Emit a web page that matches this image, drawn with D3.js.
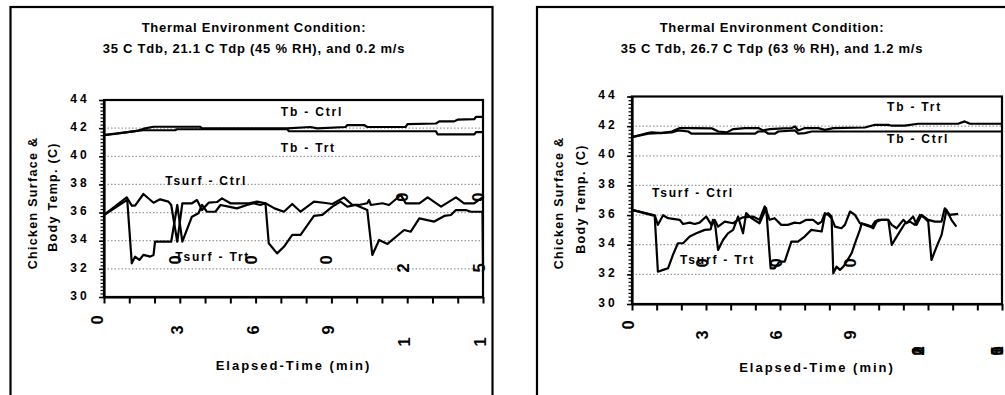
<!DOCTYPE html>
<meta charset="utf-8">
<script src="https://d3js.org/d3.v7.min.js"></script>
<style>
  body { margin: 0; background: #fff; }
  text { font-family: Arial, "Liberation Sans", sans-serif; font-weight: bold; fill: #000; }
</style>
<svg id="chart" width="1005" height="395"></svg>
<script>

// Axis values shared by both charts
var xTickValues = [0, 30, 60, 90, 120, 150];   // elapsed time (min)
var xMinorTicks = d3.range(0, 151, 10);
var yTickValues = [30, 32, 34, 36, 38, 40, 42, 44];
var gridValues = [32, 34, 36, 38, 40, 42];

// Left chart: 35 C Tdb, 21.1 C Tdp (45 % RH), 0.2 m/s   -> [min, degC]
var leftTitle = ["Thermal Environment Condition:", "35 C Tdb, 21.1 C Tdp (45 % RH), and 0.2 m/s"];
var leftTbCtrl = [[0,41.5],[3.7,41.6],[7.7,41.68],[13,41.8],[16.3,41.98],[19.6,42.1],[38.1,42.1],[38.8,41.98],
  [72.5,41.98],[81.7,42.08],[84.4,41.98],[95.6,42.08],[96.3,42.22],[102.9,42.22],[104.2,42.08],[119.4,42.08],
  [120.1,42.28],[131.4,42.33],[132.7,42.48],[138.6,42.48],[139.9,42.6],[146.6,42.64],[147.2,42.8],[150,42.8]];
var leftTbTrt = [[0,41.5],[5,41.6],[13,41.8],[15.6,41.85],[28.2,41.85],[28.8,41.92],[72.5,41.92],[73.2,41.78],
  [131.4,41.78],[132,41.56],[146.6,41.56],[147.2,41.72],[150,41.72]];
var leftTsurfCtrl = [[0,35.83],[9,37.08],[11,36.49],[12.3,36.49],[15.6,37.32],[19.6,36.7],[22.2,36.94],[25.5,36.78],
  [26.6,36.54],[29,33.93],[31,36.66],[34.8,36.66],[36.8,36.89],[38.8,36.18],
  [41.4,36.7],[44.7,36.75],[46.7,37.01],[50,36.66],[57.3,36.66],[60.6,36.78],[63.9,36.66],[67.5,36.3],[71.2,36.06],
  [74.5,36.61],[77.8,36.06],[83.1,36.78],[87,36.7],[90.4,36.61],[95,37.08],[98.3,36.54],[100.9,36.54],[104.2,36.66],
  [104.9,36.89],[105.6,36.54],[108.2,36.61],[110.2,36.66],[112.8,36.54],[117.5,37.25],[119.4,36.66],[124.8,36.66],
  [128.1,37.08],[133.4,36.42],[136.6,36.78],[139.3,37.08],[142.5,36.66],[146.5,36.66],[149.8,37.08]];
var leftTsurfTrt = [[0,35.83],[9.2,36.9],[11,32.39],[12.3,32.87],[14,32.63],[15.6,32.99],[18.3,32.87],[19.6,32.99],
  [20.2,33.93],[26.6,33.93],[29,36.54],[31,33.93],[34.8,35.71],[37.4,35.95],
  [38.8,36.54],[40.7,36.06],[44.1,36.06],[46.1,36.54],[49.3,36.42],[52.6,36.3],[56.6,36.54],[59.3,36.66],
  [61.9,36.54],[63.9,36.66],[65.2,33.82],[68.5,33.1],[71.2,33.57],[74.5,34.41],[77.8,34.41],[83.1,35.76],
  [86.4,35.83],[90.4,36.42],[93.6,36.78],[96.3,36.42],[99.6,36.54],[104.2,36.18],[106.2,32.99],[108.9,34.05],
  [112.2,33.77],[118.8,34.76],[121.4,34.64],[124.8,35.59],[130.7,35.36],[134.7,35.76],[137.3,35.83],[139.3,36.18],
  [143.2,36.18],[145.2,36.06],[149.8,36.06],[150,32.2]];

// Right chart: 35 C Tdb, 26.7 C Tdp (63 % RH), 1.2 m/s
var rightTitle = ["Thermal Environment Condition:", "35 C Tdb, 26.7 C Tdp (63 % RH), and 1.2 m/s"];
var rightTbTrt = [[0,41.26],[5.3,41.49],[8,41.58],[12,41.53],[16.1,41.64],[19.4,41.87],[24.2,41.87],[32.3,41.85],
  [35,41.64],[38.4,41.58],[41.1,41.8],[45.8,41.87],[51.2,41.87],[53.2,41.71],[55.9,41.8],[61.3,41.85],[64.7,41.87],
  [66.1,41.98],[67.4,41.71],[70.1,41.87],[75.5,41.87],[78.2,41.75],[81.6,41.87],[94.4,41.91],[98.5,42.09],
  [103.9,42.09],[105.2,42.03],[110.6,42.03],[116,42.16],[132.2,42.16],[134.9,42.32],[137,42.16],[150,42.16]];
var rightTbCtrl = [[0,41.26],[6.6,41.49],[16.1,41.58],[18.8,41.71],[22.8,41.64],[24.2,41.49],[49.9,41.49],
  [51.2,41.64],[53.9,41.64],[55.3,41.49],[58,41.49],[59.3,41.64],[66.1,41.71],[67.4,41.49],[70.1,41.53],
  [72.8,41.64],[150,41.64]];
var rightTsurfCtrl = [[0,36.35],[9.2,35.99],[10.5,35.34],[12.6,35.99],[14.6,35.79],[19.3,35.68],[20.7,35.4],
  [23.4,35.49],[25.4,35.4],[27.4,35.49],[30.1,35.9],[32.2,35.34],[33.5,35.68],[34.9,35.22],[37.6,35.56],[41,35.45],
  [43,35.68],[45,35.85],[49,35.9],[51.7,35.68],[53.8,36.58],[55.8,35.68],[57.8,35.79],[60.5,35.34],[63.2,35.34],
  [65.9,35.49],[68,35.45],[70.7,35.68],[73.4,35.68],[75.4,35.4],[76.9,35.56],[78.2,36.13],[79.6,36.01],[80.9,35.79],
  [82.3,35.22],[84.9,35.11],[86.3,35.34],[88.4,36.24],[90.4,36.01],[92.4,35.45],[94.5,35.34],[96.5,35.22],
  [97.8,35.11],[99.2,35.56],[101.2,35.68],[103.9,35.68],[105.3,35.34],[107.3,35.11],[110,35.68],[111.3,35.45],
  [114,35.9],[115.4,35.34],[117.4,36.01],[120.1,35.68],[122.8,35.56],[125.5,35.56],[126.8,36.46],[128.8,36.01],
  [132.2,36.08]];
var rightTsurfTrt = [[0,36.35],[9.2,35.95],[10.5,32.18],[12.6,32.3],[14.6,32.41],[16.6,33.31],[18.6,34.1],
  [20.7,34.1],[23.4,34.55],[26.1,34.77],[29.5,35],[31.9,35.04],[32.8,35.68],[33.8,35.22],[34.9,33.65],[36.9,34.32],
  [38.9,34.77],[41,35],[43,35.9],[45,34.77],[46.3,36.13],[48.4,35.79],[51.7,35.45],[54.4,36.46],[56.2,32.41],
  [57.8,32.41],[59.8,32.86],[61.9,32.86],[64.6,34.21],[67.3,34.21],[70,34.55],[72.7,35],[76.9,34.89],[78.2,36.01],
  [79.6,36.13],[80.9,35.9],[81.6,32.07],[82.9,32.52],[84.3,32.3],[85.7,32.52],[87,32.86],[89,33.42],[90.9,34.32],
  [92.4,35],[93.1,35.45],[95.1,35.34],[97.2,35.22],[98.5,35.56],[99.9,35.68],[103.9,35.68],[105.3,33.99],
  [107.3,34.55],[110.7,35.45],[112.7,35.56],[114.7,35.34],[116.7,36.01],[118.7,35.79],[120.1,35.56],[121.4,32.97],
  [123.5,33.87],[125.5,34.66],[127.5,36.35],[129.5,35.68],[131.5,35.22]];

var svg = d3.select("#chart");

function drawPanel(p) {
  var g = svg.append("g");

  var x = d3.scaleLinear().domain([0, 150]).range([p.left, p.right]);
  var y = d3.scaleLinear().domain([30, 44]).range([p.bottom, p.top]);

  // outer chart frame (runs off the bottom of the picture)
  g.append("rect")
    .attr("x", p.frame[0]).attr("y", p.frame[1])
    .attr("width", p.frame[2]).attr("height", 500)
    .attr("fill", "none").attr("stroke", "#000").attr("stroke-width", 2.2);

  // title
  g.selectAll(".title").data(p.title).enter().append("text")
    .attr("x", p.titleX)
    .attr("y", function(d, i){ return 32 + i * 21; })
    .attr("text-anchor", "middle")
    .style("font-size", "13px")
    .style("letter-spacing", "0.75px")
    .text(function(d){ return d; });

  // dotted gridlines
  g.selectAll(".grid").data(gridValues).enter().append("line")
    .attr("x1", p.left).attr("x2", p.right)
    .attr("y1", function(d){ return y(d); }).attr("y2", function(d){ return y(d); })
    .attr("stroke", "#9a9a9a").attr("stroke-width", 1.2)
    .attr("stroke-dasharray", "1.5 2");

  // plot area border
  g.append("rect")
    .attr("x", p.left).attr("y", p.top)
    .attr("width", p.right - p.left).attr("height", p.bottom - p.top)
    .attr("fill", "none").attr("stroke", "#000").attr("stroke-width", 2.2);

  // y axis: minor ticks, then major ticks with labels
  g.append("g")
    .attr("transform", "translate(" + p.left + ",0)")
    .call(d3.axisLeft(y).tickValues(d3.range(30, 44.01, 0.25)).tickSize(3.5).tickSizeOuter(0).tickFormat(""))
    .call(function(a){ a.select(".domain").attr("stroke-width", 2.2); a.selectAll("line").attr("stroke-width", 1.2); });

  var yAxis = g.append("g")
    .attr("transform", "translate(" + p.left + ",0)")
    .call(d3.axisLeft(y).tickValues(yTickValues).tickSize(5).tickSizeOuter(0).tickPadding(9));
  yAxis.select(".domain").remove();
  yAxis.selectAll("line").attr("stroke-width", 1.5);
  yAxis.selectAll("text")
    .attr("dy", "0.18em")
    .style("font-size", "12px")
    .style("letter-spacing", "3.2px")
    .style("font-family", "Arial, 'Liberation Sans', sans-serif")
    .style("font-weight", "bold");

  // x axis ticks every 10 min
  var xAxis = g.append("g")
    .attr("transform", "translate(0," + p.bottom + ")")
    .call(d3.axisBottom(x).tickValues(xMinorTicks).tickSize(6.5).tickSizeOuter(0).tickFormat(""));
  xAxis.select(".domain").attr("stroke-width", 2.2);
  xAxis.selectAll("line").attr("stroke-width", 2);

  // x tick labels: rotated glyphs, the way the original rendered them
  xTickValues.forEach(function(t, i) {
    var s = String(t);
    p.placeLabel(s, i).forEach(function(c) {
      g.append("text")
        .attr("transform", "translate(" + (x(t) + c.dx) + "," + c.y(y) + ") rotate(-90)")
        .attr("text-anchor", "middle")
        .attr("dy", "0.36em")
        .style("font-size", "16.5px")
        .text(c.ch);
    });
  });

  // axis titles
  g.append("text")
    .attr("x", (p.left + p.right) / 2).attr("y", p.xTitleY)
    .attr("text-anchor", "middle")
    .style("font-size", "13px").style("letter-spacing", "2px")
    .text("Elapsed-Time (min)");

  ["Chicken Surface &", "Body Temp. (C)"].forEach(function(s, i) {
    g.append("text")
      .attr("transform", "translate(" + p.yTitle[i][0] + "," + p.yTitle[i][1] + ") rotate(-90)")
      .attr("text-anchor", "middle")
      .attr("dy", "0.36em")
      .style("font-size", "12.5px").style("letter-spacing", "1.3px")
      .text(s);
  });

  // series
  var line = d3.line()
    .x(function(d){ return x(d[0]); })
    .y(function(d){ return y(d[1]); });

  g.selectAll(".series").data(p.series).enter().append("path")
    .attr("d", function(d){ return line(d.values); })
    .attr("fill", "none")
    .attr("stroke", "#000")
    .attr("stroke-width", 2.2)
    .attr("stroke-linejoin", "round");

  // series labels
  g.selectAll(".lab").data(p.series).enter().append("text")
    .attr("x", function(d){ return x(d.at[0]); })
    .attr("y", function(d){ return y(d.at[1]); })
    .attr("dy", "0.36em")
    .style("font-size", "12px").style("letter-spacing", "1.8px")
    .text(function(d){ return d.name; });
}

drawPanel({
  frame: [10.5, 7, 482],
  left: 104, right: 483, top: 100, bottom: 297,
  title: leftTitle, titleX: 254, xTitleY: 370,
  yTitle: [[32, 203], [52, 197]],
  series: [
    { name: "Tb - Ctrl", values: leftTbCtrl, at: [70, 43.15] },
    { name: "Tb - Trt", values: leftTbTrt, at: [70, 40.6] },
    { name: "Tsurf - Ctrl", values: leftTsurfCtrl, at: [24.2, 38.25] },
    { name: "Tsurf - Trt", values: leftTsurfTrt, at: [28.2, 32.85] }
  ],
  // first digit below the axis, the other digits land inside the plot
  placeLabel: function(s, i) {
    var dx = i === 0 ? -7 : -3;
    if (s.length === 1) return [{ ch: s, dx: dx, y: function(y){ return y(30) + 23; } }];
    if (s.length === 2) return [
      { ch: s[0], dx: dx, y: function(y){ return y(30) + 33; } },
      { ch: s[1], dx: -5, y: function(y){ return y(32.63); } }];
    return [
      { ch: s[0], dx: dx, y: function(y){ return y(30) + 45; } },
      { ch: s[1], dx: -4, y: function(y){ return y(32.06); } },
      { ch: s[2], dx: -5, y: function(y){ return y(37.1); } }];
  }
});

drawPanel({
  frame: [537, 7, 472],
  left: 632, right: 1002, top: 96.5, bottom: 304,
  title: rightTitle, titleX: 772, xTitleY: 372,
  yTitle: [[558, 203], [580, 199]],
  series: [
    { name: "Tb - Trt", values: rightTbTrt, at: [103.4, 43.28] },
    { name: "Tb - Ctrl", values: rightTbCtrl, at: [103.4, 41.15] },
    { name: "Tsurf - Ctrl", values: rightTsurfCtrl, at: [8.1, 37.5] },
    { name: "Tsurf - Trt", values: rightTsurfTrt, at: [19.5, 32.97] }
  ],
  // three-digit labels collapse onto one spot
  placeLabel: function(s, i) {
    if (s.length === 1) return [{ ch: s, dx: -4, y: function(y){ return y(30) + 21; } }];
    if (s.length === 2) return [
      { ch: s[0], dx: -4, y: function(y){ return y(30) + 31; } },
      { ch: s[1], dx: -4, y: function(y){ return y(32.77); } }];
    return s.split("").map(function(ch) {
      return { ch: ch, dx: i === 4 ? -10 : -5, y: function(y){ return y(30) + 47; } };
    });
  }
});

</script>
